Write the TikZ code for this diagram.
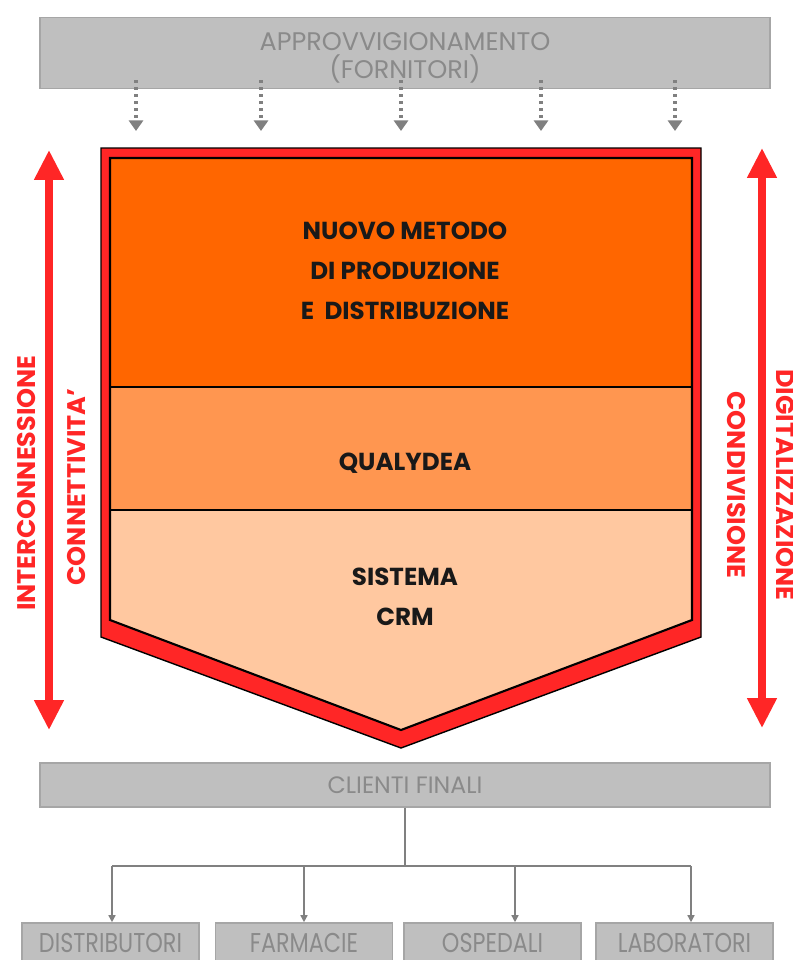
\documentclass[tikz,border=0pt]{standalone}
\usepackage{fontspec}
\setmainfont{Poppins}
\usetikzlibrary{arrows.meta}
\definecolor{barfill}{RGB}{191,191,191}
\definecolor{barline}{RGB}{166,166,166}
\definecolor{bartext}{RGB}{138,138,138}
\definecolor{linkgray}{RGB}{128,128,128}
\definecolor{sidered}{RGB}{255,38,38}
\definecolor{orangetop}{RGB}{255,102,0}
\definecolor{orangemid}{RGB}{255,150,80}
\definecolor{peach}{RGB}{255,200,160}
\newcommand{\narrow}[1]{\scalebox{0.82}[1]{#1}}

\begin{document}
\begin{tikzpicture}[x=0.02cm,y=-0.02cm,
  bar/.style={draw=barline,line width=0.9pt,fill=barfill,text=bartext,inner sep=0pt,align=center},
  supply/.style={linkgray,line width=1.8pt,dash pattern=on 1.7pt off 2.3pt,-{Triangle[width=8pt,length=6pt]}},
  link/.style={linkgray,line width=0.8pt,-{Triangle[width=4pt,length=4pt]}},
  span/.style={sidered,line width=4pt,{Triangle[width=16pt,length=17pt]}-{Triangle[width=16pt,length=17pt]}},
  sidelabel/.style={text=sidered,font=\bfseries\fontsize{14.5}{17}\selectfont},
  block/.style={font=\bfseries\fontsize{14}{22.7}\selectfont,align=center,text=black!90}]
\useasboundingbox (0,0) rectangle (792,960);

% fornitori
\node[bar,minimum width=14.6cm,minimum height=1.42cm] (fornitori) at (405,53) {};
\node[text=bartext,align=center,font=\fontsize{14.5}{15.9}\selectfont] (fornitorilbl) at (405,58) {APPROVVIGIONAMENTO\\(FORNITORI)};
\foreach \x [count=\i] in {136,261,401,541,675} {
  \coordinate (s\i) at (\x,80);
  \coordinate (t\i) at (\x,131);
  \draw[supply] (s\i) -- (t\i);
}

% shield
\draw[fill=sidered,line width=0.8pt] (101,148) -- (701,148) -- (701,637) -- (401,748) -- (101,637) -- cycle;
\fill[orangetop] (110,158) rectangle (692,387);
\fill[orangemid] (110,387) rectangle (692,510);
\fill[peach] (110,510) -- (692,510) -- (692,620) -- (401,730) -- (110,620) -- cycle;
\draw[line width=1pt] (110,387) -- (692,387) (110,510) -- (692,510);
\draw[line width=1.2pt] (110,158) -- (692,158) -- (692,620) -- (401,730) -- (110,620) -- cycle;
\node[block] (metodo) at (405,271) {NUOVO METODO\\DI PRODUZIONE\\E\ \ DISTRIBUZIONE};
\node[block] (qualydea) at (405,463) {QUALYDEA};
\node[block] (crm) at (405,597) {SISTEMA\\CRM};

% side arrows
\coordinate (ltop) at (49,150);
\coordinate (lbot) at (49,730);
\coordinate (rtop) at (762,148);
\coordinate (rbot) at (762,728);
\draw[span] (ltop) -- (lbot);
\draw[span] (rtop) -- (rbot);
\node[sidelabel,rotate=90] (inter) at (27,483) {INTERCONNESSIONE};
\node[sidelabel,rotate=90] (conn) at (77,487) {CONNETTIVITA'};
\node[sidelabel,rotate=-90] (digit) at (785,485) {DIGITALIZZAZIONE};
\node[sidelabel,rotate=-90] (condiv) at (736,485) {CONDIVISIONE};

% clienti
\node[bar,minimum width=14.6cm,minimum height=0.88cm,font=\fontsize{13.5}{15}\selectfont] (clienti) at (405,785) {CLIENTI FINALI};
\foreach \name/\x/\lbl in {dist/110.5/DISTRIBUTORI,farm/304/FARMACIE,osp/492.5/OSPEDALI,lab/684.5/LABORATORI}
  \node[bar,minimum width=3.54cm,minimum height=0.8cm,font=\fontsize{15.5}{17}\selectfont] (\name) at (\x,943) {\narrow{\lbl}};
\coordinate (hub) at (405,866);
\coordinate (b1) at (112,866);
\coordinate (b2) at (304,866);
\coordinate (b3) at (515,866);
\coordinate (b4) at (691,866);
\draw[linkgray,line width=0.8pt] (clienti.south) -- (hub) (b1) -- (b4);
\draw[link] (b1) -- (b1 |- dist.north);
\draw[link] (b2) -- (b2 |- farm.north);
\draw[link] (b3) -- (b3 |- osp.north);
\draw[link] (b4) -- (b4 |- lab.north);
\end{tikzpicture}
\end{document}
